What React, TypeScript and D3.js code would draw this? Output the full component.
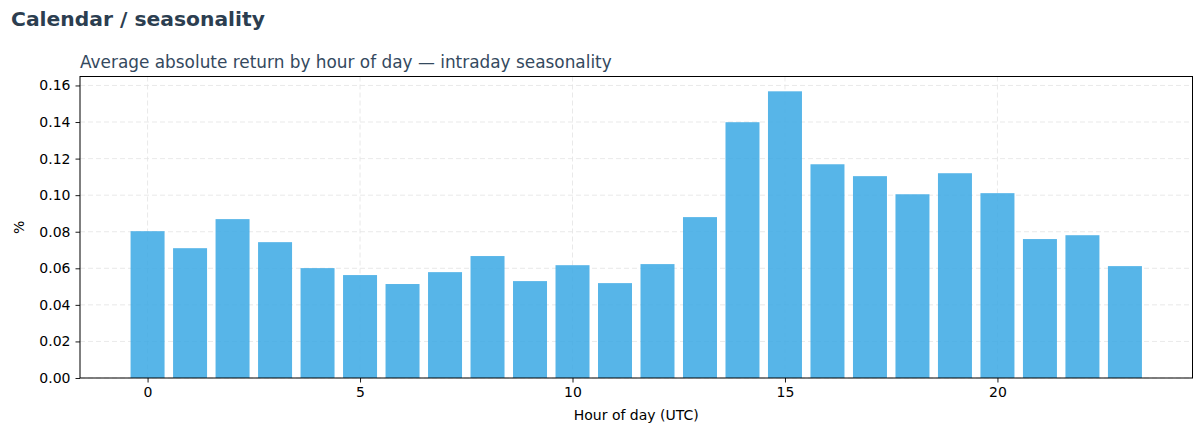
import { useRef, useEffect } from 'react';
import * as d3 from 'd3';

const hours = d3.range(0, 24);
const avgAbsReturn = [
  0.0803, 0.0710, 0.0869, 0.0743, 0.0601, 0.0563, 0.0514, 0.0579,
  0.0667, 0.0530, 0.0617, 0.0519, 0.0623, 0.0880, 0.1399, 0.1568,
  0.1169, 0.1104, 0.1005, 0.1120, 0.1011, 0.0760, 0.0781, 0.0612,
];
const xTicks = [0, 5, 10, 15, 20];
const yTicks = [0, 0.02, 0.04, 0.06, 0.08, 0.1, 0.12, 0.14, 0.16];

const W = 1203;
const H = 435;
const FONT = 'DejaVu Sans, sans-serif';

export default function App() {
  const svgRef = useRef<SVGSVGElement>(null);

  useEffect(() => {
    if (!svgRef.current) return;
    const svg = d3.select(svgRef.current);
    svg.selectAll('*').remove();

    const left = 80, right = 1192.5, top = 76.5, bottom = 378;

    const x = d3.scaleLinear().domain([-1.59, 24.59]).range([left, right]);
    const y = d3.scaleLinear().domain([0, 0.1649]).range([bottom, top]);

    svg.append('text')
      .attr('x', 11).attr('y', 26)
      .attr('font-family', FONT).attr('font-size', '20.3px').attr('font-weight', '700')
      .attr('fill', '#2c3e50')
      .text('Calendar / seasonality');

    svg.append('text')
      .attr('x', left).attr('y', 68)
      .attr('font-family', FONT).attr('font-size', '16.9px')
      .attr('fill', '#34495e')
      .text('Average absolute return by hour of day — intraday seasonality');

    // grid
    const grid = svg.append('g').attr('stroke', '#e3e3e3').attr('stroke-width', 0.8)
      .attr('stroke-dasharray', '5,3');
    yTicks.forEach((t) => {
      grid.append('line').attr('x1', left).attr('x2', right)
        .attr('y1', y(t)).attr('y2', y(t));
    });
    xTicks.forEach((t) => {
      grid.append('line').attr('x1', x(t)).attr('x2', x(t))
        .attr('y1', top).attr('y2', bottom);
    });

    // bars
    svg.append('g').selectAll('rect')
      .data(hours)
      .join('rect')
      .attr('x', (h) => x(h - 0.4))
      .attr('width', (h) => x(h + 0.4) - x(h - 0.4))
      .attr('y', (h) => y(avgAbsReturn[h]))
      .attr('height', (h) => bottom - y(avgAbsReturn[h]))
      .attr('fill', '#3aa8e4')
      .attr('fill-opacity', 0.85);

    // axes
    const xAxis = svg.append('g')
      .attr('transform', `translate(0,${bottom})`)
      .call(d3.axisBottom(x).tickValues(xTicks).tickFormat(d3.format('d')).tickSize(4.5).tickPadding(5));
    const yAxis = svg.append('g')
      .attr('transform', `translate(${left},0)`)
      .call(d3.axisLeft(y).tickValues(yTicks).tickFormat(d3.format('.2f')).tickSize(4.5).tickPadding(5));
    [xAxis, yAxis].forEach((a) => {
      a.select('.domain').remove();
      a.selectAll('text').attr('font-family', FONT).attr('font-size', '14px').attr('fill', '#000');
      a.selectAll('line').attr('stroke', '#000').attr('stroke-width', 0.9);
    });

    svg.append('rect')
      .attr('x', left).attr('y', top)
      .attr('width', right - left).attr('height', bottom - top)
      .attr('fill', 'none').attr('stroke', '#000').attr('stroke-width', 1);

    svg.append('text')
      .attr('x', (left + right) / 2).attr('y', 420)
      .attr('text-anchor', 'middle')
      .attr('font-family', FONT).attr('font-size', '14px').attr('fill', '#000')
      .text('Hour of day (UTC)');

    svg.append('text')
      .attr('transform', `translate(24,${(top + bottom) / 2}) rotate(-90)`)
      .attr('text-anchor', 'middle')
      .attr('font-family', FONT).attr('font-size', '14px').attr('fill', '#000')
      .text('%');
  }, []);

  return (
    <svg ref={svgRef} width={W} height={H}
      style={{ position: 'absolute', left: 0, top: 0, background: '#fff' }} />
  );
}
